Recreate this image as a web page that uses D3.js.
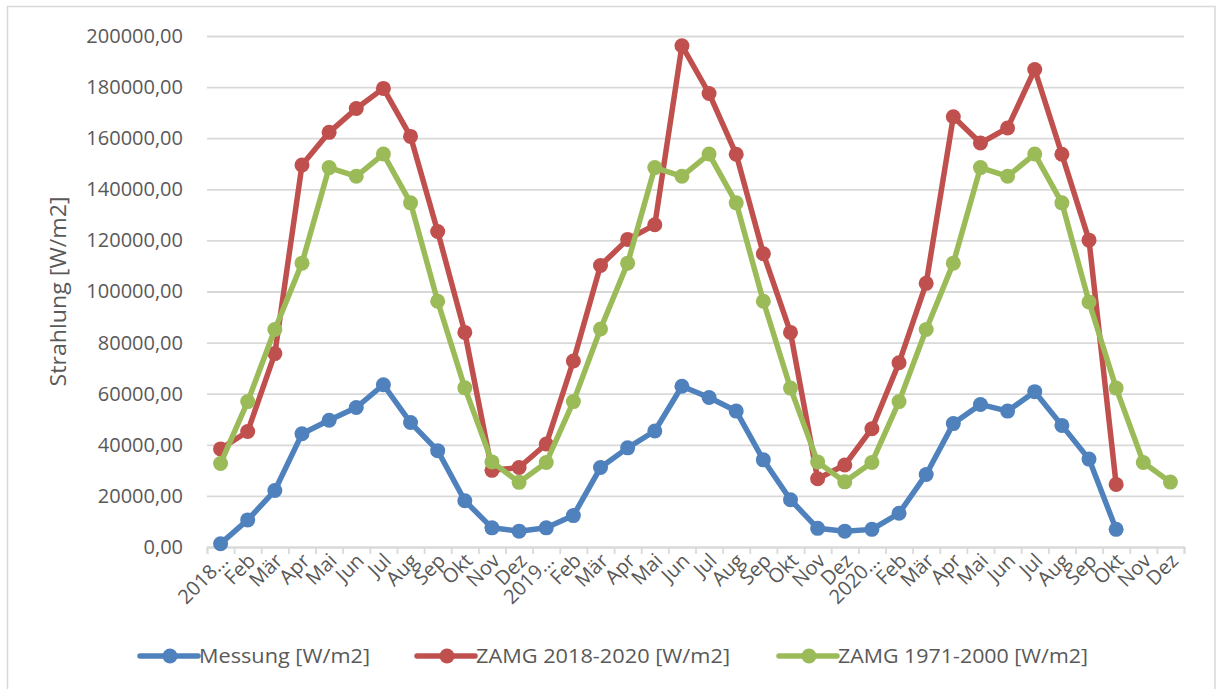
<!DOCTYPE html>
<html><head><meta charset="utf-8">
<script src="https://cdn.jsdelivr.net/npm/d3@7"></script>
<style>html,body{margin:0;padding:0;background:#fff;}svg{display:block;}</style>
</head><body>
<script>
const categories = ["2018…","Feb","Mär","Apr","Mai","Jun","Jul","Aug","Sep","Okt","Nov","Dez",
  "2019…","Feb","Mär","Apr","Mai","Jun","Jul","Aug","Sep","Okt","Nov","Dez",
  "2020…","Feb","Mär","Apr","Mai","Jun","Jul","Aug","Sep","Okt","Nov","Dez"];
const messung = [1300,10600,22100,44300,49600,54600,63500,48700,37700,18100,7500,6200,
  7500,12300,31100,38800,45400,62900,58500,53200,34100,18500,7300,6200,
  6900,13200,28400,48300,55800,53200,60800,47600,34400,6900,null,null];
const zamg2018 = [38400,45200,75700,149500,162300,171600,179500,160700,123500,84000,30000,31100,
  40300,72800,110200,120400,126100,196200,177500,153700,114800,84000,26700,32100,
  46300,72100,103200,168400,158100,164000,186900,153700,120100,24500,null,null];
const zamg1971 = [32700,56900,85100,111100,148500,145100,153800,134700,96200,62300,33300,25300,
  33100,56900,85300,111100,148500,145100,153800,134700,96200,62200,33300,25500,
  33100,56900,85100,111100,148500,145100,153800,134700,95900,62200,33100,25400];
const seriesNames = ["Messung [W/m2]","ZAMG 2018-2020 [W/m2]","ZAMG 1971-2000 [W/m2]"];
const seriesColors = ["#4F81BD","#C0504D","#9BBB59"];
const yTicks = [0,20000,40000,60000,80000,100000,120000,140000,160000,180000,200000];
const yTitle = "Strahlung [W/m2]";

(function () {
const W = 1216, H = 689;
const pL = 207, pR = 1184, pT = 36, pB = 547;
const txt = "#595959", grid = "#d9d9d9";
const font = "'Open Sans', sans-serif";

const svg = d3.select("body").append("svg").attr("width", W).attr("height", H);
svg.append("rect").attr("x", 7.5).attr("y", 6.5).attr("width", W - 8.5).attr("height", H)
  .attr("fill", "#fff").attr("stroke", grid).attr("stroke-width", 1.5);

const idx = d3.range(categories.length);
const x = d3.scaleBand().domain(idx).range([pL, pR]).paddingInner(0).paddingOuter(0);
const y = d3.scaleLinear().domain([0, 200000]).range([pB, pT]);
const de = d3.formatLocale({decimal: ",", thousands: "", grouping: [3], currency: ["", "€"]});
const fmt = de.format(".2f");

const yAxis = svg.append("g").attr("transform", `translate(${pL},0)`)
  .call(d3.axisLeft(y).tickValues(yTicks).tickSize(-(pR - pL)).tickFormat(fmt).tickPadding(24));
yAxis.select(".domain").remove();
yAxis.selectAll(".tick line").attr("stroke", grid).attr("stroke-width", 1.8);
yAxis.selectAll(".tick text").attr("fill", txt).style("font-family", font).style("font-size", "20px");

const xb = d3.scaleLinear().domain([0, categories.length]).range([pL, pR]);
const xAxis = svg.append("g").attr("transform", `translate(0,${pB})`)
  .call(d3.axisBottom(xb).tickValues(d3.range(categories.length + 1)).tickSize(7).tickFormat(""));
xAxis.select(".domain").attr("stroke", grid).attr("stroke-width", 1.8);
xAxis.selectAll(".tick line").attr("stroke", grid).attr("stroke-width", 1.8);

const xl = svg.append("g").attr("transform", `translate(0,${pB})`)
  .call(d3.axisBottom(x).tickSize(0).tickFormat(i => categories[i]));
xl.select(".domain").remove();
xl.selectAll(".tick text")
  .attr("fill", txt).style("font-family", font).style("font-size", "20px")
  .attr("text-anchor", "end").attr("x", 0).attr("y", 0).attr("dy", 0)
  .attr("transform", "translate(9,15) rotate(-45)");

svg.append("text").attr("transform", `translate(66,${(pT + pB) / 2}) rotate(-90)`)
  .attr("text-anchor", "middle").attr("fill", txt).style("font-family", font).style("font-size", "21px")
  .attr("textLength", 190).attr("lengthAdjust", "spacingAndGlyphs").text(yTitle);

const data = [messung, zamg2018, zamg1971];
const line = d3.line().defined(d => d != null).x((d, i) => x(i) + x.bandwidth() / 2).y(d => y(d));
data.forEach((s, k) => {
  const g = svg.append("g");
  g.append("path").attr("d", line(s)).attr("fill", "none").attr("stroke", seriesColors[k])
    .attr("stroke-width", 5.5).attr("stroke-linejoin", "round").attr("stroke-linecap", "round");
  g.selectAll("circle").data(s.map((v, i) => ({v, i})).filter(d => d.v != null)).join("circle")
    .attr("cx", d => x(d.i) + x.bandwidth() / 2).attr("cy", d => y(d.v)).attr("r", 7.5)
    .attr("fill", seriesColors[k]);
});

const legX = [140, 417, 779];
const legLen = [171, 254, 250];
const ly = 656;
seriesNames.forEach((n, k) => {
  const g = svg.append("g");
  g.append("line").attr("x1", legX[k]).attr("x2", legX[k] + 58).attr("y1", ly).attr("y2", ly)
    .attr("stroke", seriesColors[k]).attr("stroke-width", 5.5).attr("stroke-linecap", "round");
  g.append("circle").attr("cx", legX[k] + 30).attr("cy", ly).attr("r", 7.5).attr("fill", seriesColors[k]);
  g.append("text").attr("x", legX[k] + 59).attr("y", ly).attr("dy", "0.35em").attr("fill", txt)
    .style("font-family", font).style("font-size", "20px")
    .attr("textLength", legLen[k]).attr("lengthAdjust", "spacingAndGlyphs").text(n);
});
})();
</script>
</body></html>
